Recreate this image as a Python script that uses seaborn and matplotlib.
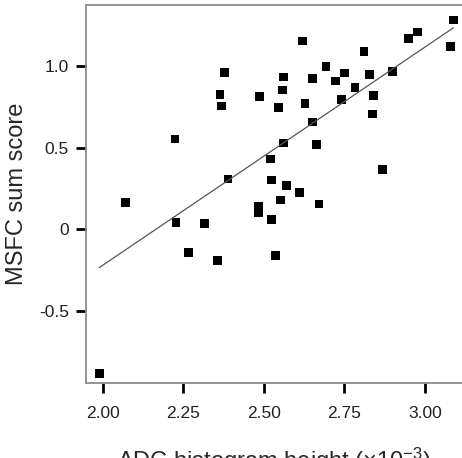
import numpy as np
import pandas as pd
import seaborn as sns
import matplotlib
matplotlib.use("Agg")
import matplotlib.pyplot as plt

# values
adc_height = [3.088, 2.977, 2.948, 3.080, 2.619, 2.811, 2.693, 2.379, 2.562, 2.652,
              2.722, 2.751, 2.829, 2.899, 2.783, 2.557, 2.364, 2.368, 2.487, 2.545,
              2.628, 2.742, 2.840, 2.836, 2.652, 2.224, 2.562, 2.664, 2.520, 2.868,
              2.389, 2.524, 2.570, 2.610, 2.071, 2.552, 2.671, 2.483, 2.483, 2.524,
              2.227, 2.315, 2.265, 2.356, 2.536, 1.989]
msfc_score = [1.285, 1.211, 1.170, 1.121, 1.156, 1.090, 1.001, 0.961, 0.935, 0.927,
              0.910, 0.959, 0.951, 0.970, 0.872, 0.855, 0.829, 0.757, 0.814, 0.749,
              0.771, 0.798, 0.823, 0.708, 0.659, 0.554, 0.530, 0.522, 0.432, 0.368,
              0.309, 0.303, 0.269, 0.228, 0.163, 0.180, 0.155, 0.143, 0.102, 0.059,
              0.043, 0.034, -0.144, -0.193, -0.162, -0.884]

x_ticks = [2.00, 2.25, 2.50, 2.75, 3.00]
x_tick_labels = ["2.00", "2.25", "2.50", "2.75", "3.00"]
y_ticks = [-0.5, 0, 0.5, 1.0]
y_tick_labels = ["-0.5", "0", "0.5", "1.0"]

df = pd.DataFrame({"adc": adc_height, "msfc": msfc_score})

sns.set_style("ticks")
plt.rcParams["font.family"] = ["Liberation Sans", "DejaVu Sans"]
plt.rcParams["mathtext.fontset"] = "custom"
plt.rcParams["mathtext.rm"] = "Liberation Sans"
plt.rcParams["mathtext.it"] = "Liberation Sans:italic"

fig = plt.figure(figsize=(4.62, 4.58), dpi=100)
ax = fig.add_axes([0.1855, 0.1627, 0.8145, 0.8264])

sns.regplot(data=df, x="adc", y="msfc", ax=ax, ci=None, marker="s",
            scatter_kws={"s": 40, "color": "black", "edgecolor": "none", "alpha": 1},
            line_kws={"color": "#555555", "linewidth": 0.9})

ax.set_xlim(1.947, 3.115)
ax.set_ylim(-0.947, 1.377)
ax.set_xticks(x_ticks, labels=x_tick_labels)
ax.set_yticks(y_ticks, labels=y_tick_labels)

for side in ["left", "bottom", "top"]:
    ax.spines[side].set_color("#8c8c8c")
    ax.spines[side].set_linewidth(1.3)
ax.spines["right"].set_visible(False)

ax.tick_params(axis="both", which="major", direction="out", length=7, width=2,
               color="black", labelsize=12.5, labelcolor="#222222", pad=5)
ax.tick_params(axis="x", pad=9)

ax.set_xlabel("ADC histogram height (×10$^{-3}$)", fontsize=17, labelpad=18)
ax.set_ylabel("MSFC sum score", fontsize=17, labelpad=8)

fig.savefig("out.png", dpi=100)
